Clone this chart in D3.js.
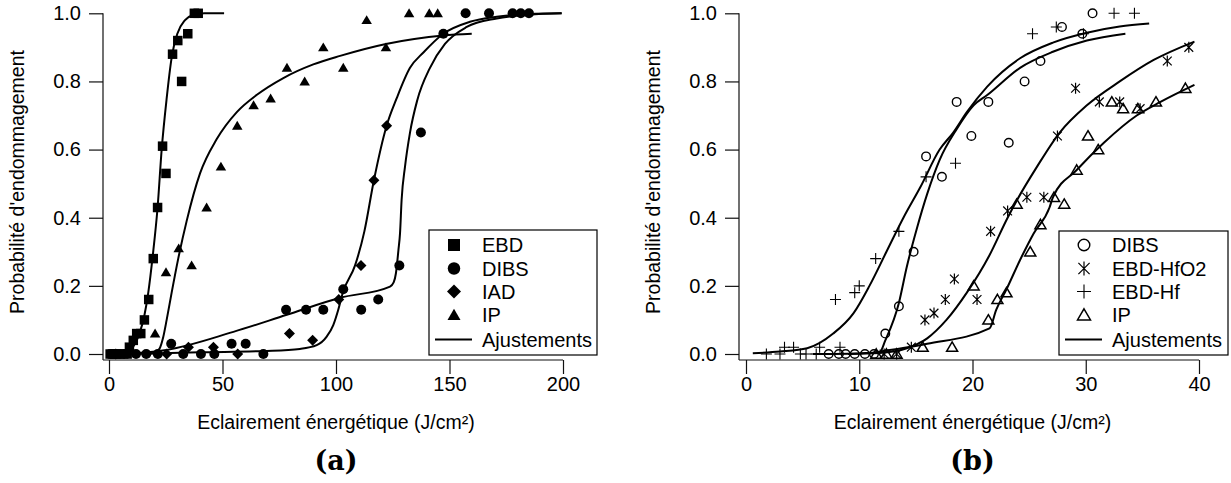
<!DOCTYPE html>
<html><head><meta charset="utf-8">
<script src="https://cdn.jsdelivr.net/npm/d3@7"></script>
<style>
html,body{margin:0;padding:0;background:#fff;}
svg{display:block;}
</style></head>
<body>
<svg id="chart" width="1231" height="483" font-family="Liberation Sans, Arial, sans-serif"></svg>
<script>
// ---------- Panel (a) data : [fluence J/cm², probability] ----------
const aEBD = [[0.5,0],[1.5,0],[2.5,0],[3.5,0],[5,0],[6.5,0],[8,0],[9,0.02],[10.7,0.04],[12.2,0.06],[14,0.06],[15.6,0.10],[17.5,0.16],[19.5,0.28],[21.4,0.43],[23.6,0.61],[25.1,0.53],[28,0.88],[30.3,0.92],[32,0.80],[34.7,0.94],[37.6,1.0],[39.3,1.0]];
const aDIBS = [[1,0],[11.9,0],[16.4,0],[21.5,0],[27.4,0.03],[32.7,0],[40.5,0],[46.4,0],[54,0.03],[60.2,0.03],[68,0],[78,0.13],[86.8,0.13],[94.4,0.13],[103.2,0.19],[111.1,0.13],[118.6,0.16],[127.9,0.26],[137.4,0.65],[147.3,0.94],[157.1,1],[167.4,1],[177.8,1],[181.4,1],[185,1]];
const aIAD = [[3,0],[25.4,0],[35,0.02],[46,0.02],[56.7,0],[79.5,0.06],[89.7,0.04],[101.2,0.16],[111,0.26],[116.7,0.51],[122.3,0.67]];
const aIP = [[20.3,0.06],[25.1,0.24],[30.7,0.31],[36.4,0.26],[43,0.43],[49.3,0.55],[56.5,0.67],[63.7,0.73],[71.2,0.75],[78.4,0.84],[86.2,0.80],[94.4,0.90],[103.2,0.84],[113.5,0.98],[122,0.90],[132.2,1],[141.1,1],[144.8,1]];
// fitted curves (a)
const aFitEBD = [[1,0],[6,0.002],[9,0.01],[11,0.025],[13.4,0.06],[15.5,0.11],[17.3,0.18],[19.3,0.29],[21.4,0.43],[23.2,0.60],[25.4,0.75],[27.6,0.87],[30.1,0.94],[33.5,0.98],[37,0.995],[42,1.0],[50.7,1.0]];
const aFitIP = [[16,0],[20,0.003],[22.2,0.015],[23.9,0.05],[25.4,0.10],[27.6,0.18],[30.5,0.28],[34.2,0.39],[40.1,0.53],[47.4,0.63],[56.3,0.71],[65,0.76],[76.8,0.81],[90,0.85],[101.8,0.875],[122,0.91],[147.3,0.935],[159.8,0.94]];
const aFitDIBS = [[5,0],[25.4,0.012],[54.8,0.065],[78.3,0.115],[101.8,0.165],[123.8,0.198],[125.4,0.21],[126.4,0.237],[127.5,0.305],[128.2,0.354],[128.9,0.452],[130.4,0.55],[132.6,0.65],[135.8,0.745],[141.4,0.84],[148,0.91],[157.6,0.96],[170.8,0.985],[185,0.996],[199.4,1.0]];
const aFitIAD = [[10,0],[40.1,0.005],[69.5,0.009],[84.1,0.015],[91.5,0.026],[95.9,0.051],[98.8,0.085],[101,0.13],[103,0.18],[108.4,0.26],[112.5,0.36],[116.7,0.51],[122.3,0.67],[126.7,0.75],[132.6,0.84],[138.5,0.885],[147.3,0.94],[159,0.975],[170.8,0.99],[185,0.998],[199.4,1.0]];

// ---------- Panel (b) data ----------
const bDIBS = [[7.3,0],[8.2,0],[8.8,0],[9.6,0],[10.5,0],[11.3,0],[12.3,0.06],[13.5,0.14],[14.8,0.30],[15.9,0.58],[17.3,0.52],[18.6,0.74],[19.9,0.64],[21.4,0.74],[23.2,0.62],[24.6,0.80],[26,0.86],[27.9,0.96],[29.7,0.94],[30.6,1.0]];
const bHfO2 = [[12.2,0],[13.3,0],[14.6,0.02],[15.8,0.10],[16.6,0.12],[17.6,0.16],[18.4,0.22],[20.4,0.16],[21.6,0.36],[23.1,0.42],[24.8,0.46],[26.3,0.46],[27.5,0.64],[29.1,0.78],[31.2,0.74],[33.0,0.74],[34.8,0.72],[37.2,0.86],[39.1,0.90]];
const bHf = [[1.8,0],[3,0],[3.4,0.02],[4.2,0.02],[4.8,0],[5.3,0],[6.2,0],[6.5,0.02],[8.3,0.02],[7.9,0.16],[9.6,0.18],[10,0.20],[11.45,0.28],[13.5,0.36],[15.9,0.52],[18.5,0.56],[25.3,0.94],[27.4,0.96],[29.8,0.94],[32.5,1.0],[34.3,1.0]];
const bIP = [[11.5,0],[12.4,0],[13.3,0],[15.6,0.02],[18.2,0.02],[20.1,0.20],[21.4,0.10],[22.2,0.16],[23,0.18],[23.9,0.44],[25.1,0.30],[26,0.38],[27.2,0.46],[28.1,0.44],[29.2,0.54],[30.2,0.64],[31.1,0.60],[32.3,0.74],[33.3,0.72],[34.6,0.72],[36.2,0.74],[38.8,0.78]];
// fitted curves (b)
const bFitHf = [[0.6,0.002],[3,0.007],[5.4,0.017],[7.7,0.06],[9.5,0.12],[10.9,0.20],[12.4,0.30],[13.9,0.40],[15.4,0.49],[17.1,0.60],[18.3,0.65],[19.5,0.71],[21.3,0.785],[24.2,0.868],[27.1,0.914],[30.1,0.943],[33,0.961],[35.6,0.97]];
const bFitDIBS = [[5.9,0],[9,0.001],[11.8,0.005],[12.3,0.04],[13.5,0.15],[14.2,0.256],[15.1,0.37],[16,0.47],[17.1,0.57],[18.6,0.66],[20.1,0.73],[21.3,0.76],[24.2,0.84],[27.1,0.887],[30.1,0.92],[33.5,0.94]];
const bFitHfO2 = [[9,0],[11.8,0.003],[14.2,0.017],[16,0.046],[17.7,0.10],[19.5,0.18],[21.5,0.29],[23.1,0.40],[23.9,0.45],[25.7,0.55],[27.7,0.65],[30.1,0.73],[33,0.80],[36,0.863],[39.6,0.917]];
const bFitIP = [[11.2,0.004],[16,0.03],[21.5,0.075],[22.1,0.13],[23,0.19],[24.2,0.276],[25.4,0.354],[26.8,0.43],[27.1,0.46],[29.2,0.54],[31.6,0.62],[34.5,0.70],[36.6,0.74],[39.6,0.79]];

// tick labels
const yTicks = [0, 0.2, 0.4, 0.6, 0.8, 1.0];
const aXTicks = [0, 50, 100, 150, 200];
const bXTicks = [0, 10, 20, 30, 40];
const yTitle = "Probabilité d'endommagement";
const xTitle = "Eclairement énergétique (J/cm²)";
const aLegend = ["EBD", "DIBS", "IAD", "IP", "Ajustements"];
const bLegend = ["DIBS", "EBD-HfO2", "EBD-Hf", "IP", "Ajustements"];

const SANS = "Liberation Sans, Arial, sans-serif";
const svg = d3.select("#chart");

// ---------- marker shapes ----------
function marker(g, type, cx, cy, s) {
  const h = s / 2;
  if (type === "square") {
    g.append("rect").attr("x", cx - h).attr("y", cy - h).attr("width", s).attr("height", s).attr("fill", "#000");
  } else if (type === "circle") {
    g.append("circle").attr("cx", cx).attr("cy", cy).attr("r", h).attr("fill", "#000");
  } else if (type === "diamond") {
    g.append("path").attr("d", `M${cx},${cy - h}L${cx + h},${cy}L${cx},${cy + h}L${cx - h},${cy}Z`).attr("fill", "#000");
  } else if (type === "triangle") {
    g.append("path").attr("d", `M${cx},${cy - h * 0.95}L${cx + h},${cy + h * 0.75}L${cx - h},${cy + h * 0.75}Z`).attr("fill", "#000");
  } else if (type === "ocircle") {
    g.append("circle").attr("cx", cx).attr("cy", cy).attr("r", h - 0.7).attr("fill", "none").attr("stroke", "#000").attr("stroke-width", 1.4);
  } else if (type === "otriangle") {
    g.append("path").attr("d", `M${cx},${cy - h * 0.95}L${cx + h},${cy + h * 0.75}L${cx - h},${cy + h * 0.75}Z`)
      .attr("fill", "none").attr("stroke", "#000").attr("stroke-width", 1.5).attr("stroke-linejoin", "miter");
  } else if (type === "plus") {
    g.append("path").attr("d", `M${cx - h},${cy}H${cx + h}M${cx},${cy - h}V${cy + h}`).attr("stroke", "#000").attr("stroke-width", 1.1).attr("fill", "none");
  } else if (type === "asterisk") {
    const d = h * 0.8;
    g.append("path").attr("d", `M${cx},${cy - h}V${cy + h}M${cx - d},${cy - d}L${cx + d},${cy + d}M${cx - d},${cy + d}L${cx + d},${cy - d}`)
      .attr("stroke", "#000").attr("stroke-width", 1.2).attr("fill", "none");
  }
}

function panel(opts) {
  const { x, axisX, xTicks, series, fits, legend, legendBox, titleX, ylabX, capText, capX } = opts;
  const y = d3.scaleLinear().domain([0, 1]).range([354, 13.3]);
  const g = svg.append("g");
  const xEnd = x(xTicks[xTicks.length - 1]);

  // axis lines
  g.append("line").attr("x1", axisX).attr("x2", axisX).attr("y1", y(1)).attr("y2", 360).attr("stroke", "#111").attr("stroke-width", 1.2);
  g.append("line").attr("x1", axisX).attr("x2", xEnd).attr("y1", 360).attr("y2", 360).attr("stroke", "#111").attr("stroke-width", 1.2);

  // y axis
  const ya = g.append("g").attr("transform", `translate(${axisX},0)`)
    .call(d3.axisLeft(y).tickValues(yTicks).tickFormat(d3.format(".1f")).tickSize(14).tickPadding(8).tickSizeOuter(0));
  ya.select(".domain").remove();
  ya.selectAll("line").attr("stroke", "#111").attr("stroke-width", 1.2);
  ya.selectAll("text").style("font-size", "20px").style("font-family", SANS).attr("fill", "#000");

  // x axis
  const xa = g.append("g").attr("transform", `translate(0,360)`)
    .call(d3.axisBottom(x).tickValues(xTicks).tickFormat(d3.format("d")).tickSize(14).tickPadding(3).tickSizeOuter(0));
  xa.select(".domain").remove();
  xa.selectAll("line").attr("stroke", "#111").attr("stroke-width", 1.2);
  xa.selectAll("text").style("font-size", "20px").style("font-family", SANS).attr("fill", "#000");

  // fits
  const line = d3.line().x(d => x(d[0])).y(d => y(d[1])).curve(d3.curveMonotoneX);
  fits.forEach(f => {
    g.append("path").attr("d", line(f)).attr("fill", "none").attr("stroke", "#000").attr("stroke-width", 2);
  });

  // markers
  series.forEach(s => {
    const sg = g.append("g");
    s.data.forEach(d => marker(sg, s.type, x(d[0]), y(d[1]), s.size));
  });

  // legend
  const lb = legendBox;
  g.append("rect").attr("x", lb.x).attr("y", lb.y).attr("width", lb.w).attr("height", lb.h)
    .attr("fill", "#fff").attr("stroke", "#000").attr("stroke-width", 1.2);
  const rows = [245, 268.5, 291.5, 315, 339.5];
  legend.forEach((name, i) => {
    const cy = rows[i];
    if (i < series.length) {
      marker(g, series[i].type, lb.x + 25, cy, series[i].lsize);
    } else {
      g.append("line").attr("x1", lb.x + 6).attr("x2", lb.x + 43).attr("y1", cy).attr("y2", cy).attr("stroke", "#000").attr("stroke-width", 2);
    }
    g.append("text").attr("x", lb.x + 53).attr("y", cy).attr("dy", "0.36em").style("font-size", "20px").style("font-family", SANS).text(name);
  });

  // titles
  g.append("text").attr("x", titleX).attr("y", 429).attr("text-anchor", "middle").style("font-size", "19.5px").style("font-family", SANS).text(xTitle);
  g.append("text").attr("transform", `translate(${ylabX},182) rotate(-90)`).attr("text-anchor", "middle").style("font-size", "19.5px").style("font-family", SANS).text(yTitle);
  g.append("text").attr("x", capX).attr("y", 470).attr("text-anchor", "middle")
    .style("font-family", "'DejaVu Serif', 'Liberation Serif', serif").style("font-weight", "bold").style("font-size", "27px").text(capText);
}

panel({
  x: d3.scaleLinear().domain([0, 200]).range([109, 563]),
  axisX: 103, xTicks: aXTicks,
  series: [
    { data: aEBD, type: "square", size: 9.5, lsize: 12 },
    { data: aDIBS, type: "circle", size: 10, lsize: 12.5 },
    { data: aIAD, type: "diamond", size: 11, lsize: 14 },
    { data: aIP, type: "triangle", size: 10.5, lsize: 13 }
  ],
  fits: [aFitEBD, aFitIP, aFitDIBS, aFitIAD],
  legend: aLegend,
  legendBox: { x: 429, y: 230, w: 168, h: 125 },
  titleX: 336, ylabX: 23.5, capText: "(a)", capX: 336
});

panel({
  x: d3.scaleLinear().domain([0, 40]).range([746, 1199]),
  axisX: 739, xTicks: bXTicks,
  series: [
    { data: bDIBS, type: "ocircle", size: 10, lsize: 13 },
    { data: bHfO2, type: "asterisk", size: 11, lsize: 14 },
    { data: bHf, type: "plus", size: 11, lsize: 14 },
    { data: bIP, type: "otriangle", size: 11, lsize: 13 }
  ],
  fits: [bFitHf, bFitDIBS, bFitHfO2, bFitIP],
  legend: bLegend,
  legendBox: { x: 1059, y: 231, w: 169, h: 124 },
  titleX: 972.5, ylabX: 660, capText: "(b)", capX: 972.5
});
</script>
</body></html>
